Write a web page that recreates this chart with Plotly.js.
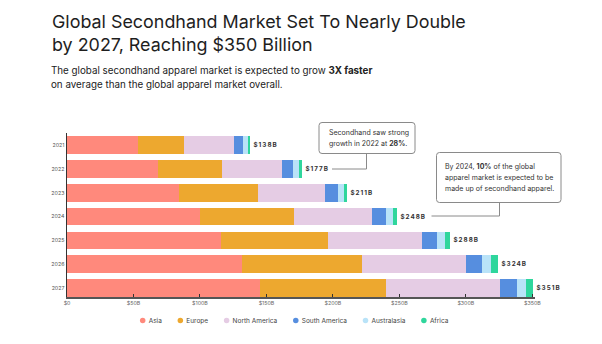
<!DOCTYPE html>
<html><head><meta charset="utf-8">
<script src="https://cdn.plot.ly/plotly-3.0.1.min.js"></script>
<style>
html,body{margin:0;padding:0;background:#fff;}
#chart{width:602px;height:344px;}
.annotation[data-index="0"] text,.annotation[data-index="1"] text,.annotation[data-index="2"] text,
.annotation[data-index="3"] text,.annotation[data-index="4"] text,.annotation[data-index="5"] text,
.annotation[data-index="6"] text{letter-spacing:1px;}
</style></head><body><div id="chart"></div>
<script>
// ---- data ----
const years = ['2021','2022','2023','2024','2025','2026','2027'];
const asia = [53.5,68.2,84.2,99.8,115.6,131.5,145.3];
const europe = [34.8,48.6,59.4,70.7,80.7,90.5,94.7];
const northAmerica = [37.6,44.8,50.4,58.9,70.5,78.0,85.5];
const southAmerica = [6.8,8.6,9.8,10.3,11.3,12.0,13.0];
const australasia = [3.1,4.0,4.5,5.8,6.2,6.7,6.8];
const africa = [2.2,2.8,2.6,2.7,3.8,5.3,5.5];
const totalLabels = ['$138B','$177B','$211B','$248B','$288B','$324B','$351B'];
const xTickVals = [0,50,100,150,200,250,300,350];
const xTickText = ['$0','$50B','$100B','$150B','$200B','$250B','$300B','$350B'];
const seriesNames = ['Asia','Europe','North America','South America','Australasia','Africa'];
const seriesColors = ['#FF897C','#EDA82F','#E5CCE4','#568EDF','#B9E3F8','#2FD69C'];
const seriesValues = [asia, europe, northAmerica, southAmerica, australasia, africa];

// ---- layout geometry ----
const L = 67, R = 67, T = 133, B = 47, W = 602 - L - R, H = 344 - T - B;
const px = x => (x - L) / W;
const py = y => (T + H - y) / H;
const FONT = 'Inter, "Noto Sans", sans-serif';

const traces = [];
seriesValues.forEach((vals, i) => {
  traces.push({
    type: 'bar', orientation: 'h', name: seriesNames[i],
    x: vals, y: years, showlegend: false,
    marker: {color: seriesColors[i], line: {width: 0}},
    hoverinfo: 'skip'
  });
});
seriesNames.forEach((n, i) => {
  traces.push({
    type: 'scatter', mode: 'markers', name: n, x: [null], y: [null],
    marker: {symbol: 'circle', size: 5.5, color: seriesColors[i]}
  });
});

const totals = years.map((_, j) => seriesValues.reduce((s, v) => s + v[j], 0));

const annotations = [];
years.forEach((yr, j) => {
  annotations.push({
    xref: 'x', yref: 'y', x: totals[j], y: j, xanchor: 'left', yanchor: 'middle',
    xshift: 4, text: '<b>' + totalLabels[j] + '</b>', showarrow: false,
    font: {family: FONT, size: 6.3, color: '#333'}
  });
});
function txt(x, y, text, size, color) {
  annotations.push({
    xref: 'paper', yref: 'paper', x: px(x), y: py(y), xanchor: 'left', yanchor: 'middle',
    text: text, showarrow: false, font: {family: FONT, size: size, color: color}
  });
}
txt(49.5, 21, 'Global Secondhand Market Set To Nearly Double', 17.9, '#1e1e1e');
txt(49.5, 44, 'by 2027, Reaching $350 Billion', 17.9, '#1e1e1e');
txt(49, 70.5, 'The global secondhand apparel market is expected to grow <b>3X faster</b>', 9.8, '#222');
txt(49, 84, 'on average than the global apparel market overall.', 9.8, '#222');
txt(326.5, 132, 'Secondhand saw strong', 7, '#333');
txt(326.5, 143, 'growth in 2022 at <b>28%</b>.', 7, '#333');
txt(443, 166.5, 'By 2024, <b>10%</b> of the global', 7, '#333');
txt(443, 177.5, 'apparel market is expected to be', 7, '#333');
txt(443, 188.5, 'made up of secondhand apparel.', 7, '#333');

function roundRect(x0, y0, x1, y1, r) {
  const p = (x, y) => px(x) + ',' + py(y);
  return 'M' + p(x0 + r, y0) + ' L' + p(x1 - r, y0) + ' Q' + p(x1, y0) + ' ' + p(x1, y0 + r) +
    ' L' + p(x1, y1 - r) + ' Q' + p(x1, y1) + ' ' + p(x1 - r, y1) +
    ' L' + p(x0 + r, y1) + ' Q' + p(x0, y1) + ' ' + p(x0, y1 - r) +
    ' L' + p(x0, y0 + r) + ' Q' + p(x0, y0) + ' ' + p(x0 + r, y0) + ' Z';
}
function polyline(pts) {
  return pts.map((q, i) => (i ? 'L' : 'M') + px(q[0]) + ',' + py(q[1])).join(' ');
}
const lineStyle = {color: '#8a8a8a', width: 1};
const shapes = [
  {type: 'path', xref: 'paper', yref: 'paper', path: roundRect(319, 122.5, 415, 153.5, 3), line: lineStyle, fillcolor: '#fff'},
  {type: 'path', xref: 'paper', yref: 'paper', path: polyline([[366.5, 153.5], [366.5, 169], [332, 169]]), line: lineStyle},
  {type: 'path', xref: 'paper', yref: 'paper', path: roundRect(436.5, 152.5, 561, 202.5, 3), line: lineStyle, fillcolor: '#fff'},
  {type: 'path', xref: 'paper', yref: 'paper', path: polyline([[499.5, 202.5], [499.5, 216], [431.5, 216]]), line: lineStyle}
];

const layout = {
  width: 602, height: 344,
  margin: {l: L, r: R, t: T, b: B, pad: 0, autoexpand: false},
  paper_bgcolor: '#fff', plot_bgcolor: '#fff',
  barmode: 'stack', bargap: 0.26,
  font: {family: FONT, color: '#555'},
  xaxis: {
    range: [0, 352], tickvals: xTickVals, ticktext: xTickText,
    showgrid: false, zeroline: false, showline: true, linecolor: '#555', linewidth: 1.5,
    ticks: 'inside', ticklen: 3, tickcolor: '#333', tickwidth: 1,
    tickfont: {family: FONT, size: 5.3, color: '#666'}
  },
  yaxis: {
    type: 'category', range: [6.37, -0.5],
    showgrid: false, zeroline: false, showline: true, linecolor: '#333', linewidth: 1.5,
    layer: 'below traces', ticks: '',
    tickfont: {family: FONT, size: 5.3, color: '#555'}
  },
  showlegend: true,
  legend: {
    orientation: 'h', traceorder: 'normal', x: px(60), xanchor: 'left', y: py(320.5), yanchor: 'middle',
    font: {family: FONT, size: 6.5, color: '#444'}, itemwidth: 30, bgcolor: 'rgba(0,0,0,0)'
  },
  annotations: annotations,
  shapes: shapes
};

Plotly.newPlot('chart', traces, layout, {displayModeBar: false, staticPlot: true}).then(gd => {
  // compact legend spacing: circle, small gap, text
  const sb = gd.querySelector('.legend .scrollbox');
  if (sb) sb.removeAttribute('clip-path');
  const items = Array.from(gd.querySelectorAll('.legend .traces'));
  if (!items.length) return;
  const m = /translate\(\s*([-\d.e]+)[ ,]+([-\d.e]+)\s*\)/.exec(items[0].getAttribute('transform') || '');
  const ty = m ? parseFloat(m[2]) : 0;
  items.forEach(g => g.setAttribute('transform', 'translate(0,' + ty + ')'));
  const gx = items[0].getCTM().e;
  let cx = 142.7;
  items.forEach(g => {
    const sym = g.querySelector('.legendpoints path') || g.querySelector('.legendpoints');
    const r = sym.getBoundingClientRect();
    const local = (r.left + r.right) / 2 - gx;
    const t = g.querySelector('.legendtext');
    t.setAttribute('x', local + 6);
    const w = t.getComputedTextLength();
    g.setAttribute('transform', 'translate(' + (cx - gx - local) + ',' + ty + ')');
    cx += 6.5 + w + 18;
  });
});
</script>
</body></html>
